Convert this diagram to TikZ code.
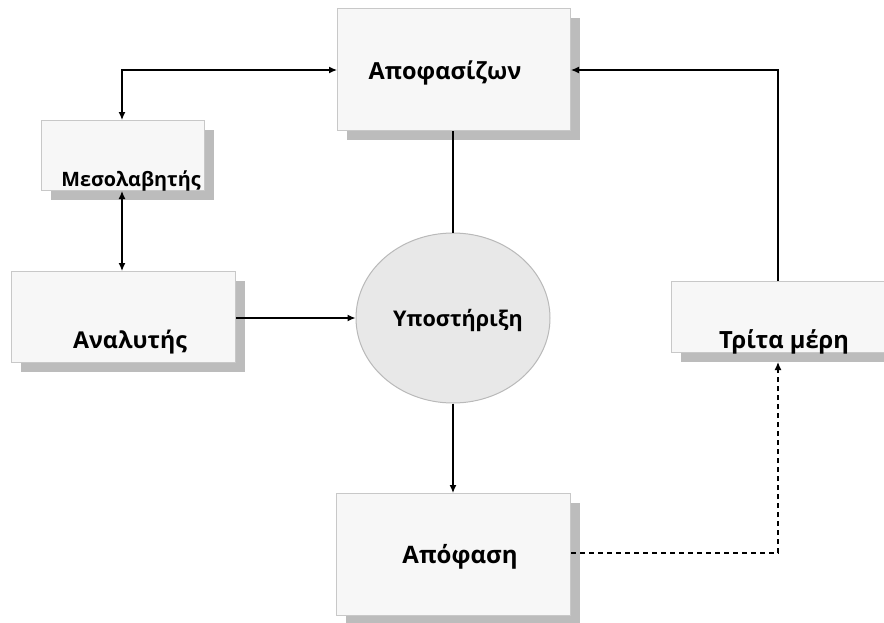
\documentclass[tikz,border=0pt]{standalone}
\usepackage{fontspec}
\setmainfont{Open Sans}
\usetikzlibrary{arrows.meta,shapes.geometric}
\definecolor{boxfill}{RGB}{247,247,247}
\definecolor{boxline}{RGB}{200,200,200}
\definecolor{shade}{RGB}{188,188,188}
\definecolor{ellfill}{RGB}{232,232,232}
\definecolor{ellline}{RGB}{185,185,185}
\tikzset{
  panel/.style={draw=boxline, line width=1pt, fill=boxfill, rectangle, inner sep=0pt, anchor=north west},
  panelshade/.style={fill=shade, draw=none},
  caption/.style={font=\bfseries, text=black, inner sep=0pt},
  link/.style={line width=1.3pt, -{Latex[length=8pt,width=7pt]}},
  biglink/.style={line width=1.3pt, {Latex[length=8pt,width=7pt]}-{Latex[length=8pt,width=7pt]}},
}
% shadowed panel: name, left, top, width, height
\newcommand{\shadowpanel}[5]{%
  \fill[panelshade] (#2+10,-#3-10) rectangle (#2+#4+10,-#3-#5-10);
  \node[panel, minimum width=#4, minimum height=#5] (#1) at (#2,-#3) {};
}
\begin{document}
\begin{tikzpicture}[x=1pt,y=1pt]
\useasboundingbox (0,0) rectangle (884,-622);
\clip (0,0) rectangle (884,-622);

% panels
\shadowpanel{dec}{337}{8}{233}{122}
\shadowpanel{med}{41}{120}{163}{70}
\shadowpanel{ana}{11}{271}{224}{91}
\shadowpanel{tri}{671}{281}{240}{71}
\shadowpanel{res}{336}{493}{234}{122}

% central support ellipse
\node[draw=ellline, line width=1pt, fill=ellfill, ellipse, minimum width=194, minimum height=170, inner sep=0pt] (sup) at (453,-318) {};

% captions
\node[caption, font=\bfseries\fontsize{23.5}{28}\selectfont] (tdec) at (445,-73) {Αποφασίζων};
\node[caption, font=\bfseries\fontsize{19.8}{24}\selectfont] (tmed) at (131,-181) {Μεσολαβητής};
\node[caption, font=\bfseries\fontsize{23.2}{28}\selectfont] (tana) at (130,-342) {Αναλυτής};
\node[caption, font=\bfseries\fontsize{21.6}{26}\selectfont] (tsup) at (458,-320) {Υποστήριξη};
\node[caption, font=\bfseries\fontsize{23.7}{28}\selectfont] (ttri) at (784,-342) {Τρίτα μέρη};
\node[caption, font=\bfseries\fontsize{24}{28}\selectfont] (tres) at (460,-557) {Απόφαση};

% connectors
\coordinate (bendA) at (122,-70);
\coordinate (bendB) at (778,-70);
\coordinate (bendC) at (778,-553);
\coordinate (triBase) at (778,-362);
\draw[biglink] (dec.west |- bendA) -- (bendA) -- (med.north -| bendA);
\draw[biglink] (med.south -| bendA) -- (ana.north -| bendA);
\draw[link] (ana.east |- sup.west) -- (sup.west);
\draw[line width=1.3pt] (dec.south -| sup.north) -- (sup.north);
\draw[link] (sup.south) -- (res.north -| sup.south);
\draw[line width=1.3pt, dash pattern=on 5pt off 4pt, -{Latex[length=8pt,width=7pt]}] (res.east |- bendC) -- (bendC) -- (triBase);
\draw[link] (tri.north -| bendB) -- (bendB) -- (dec.east |- bendB);
\end{tikzpicture}
\end{document}
